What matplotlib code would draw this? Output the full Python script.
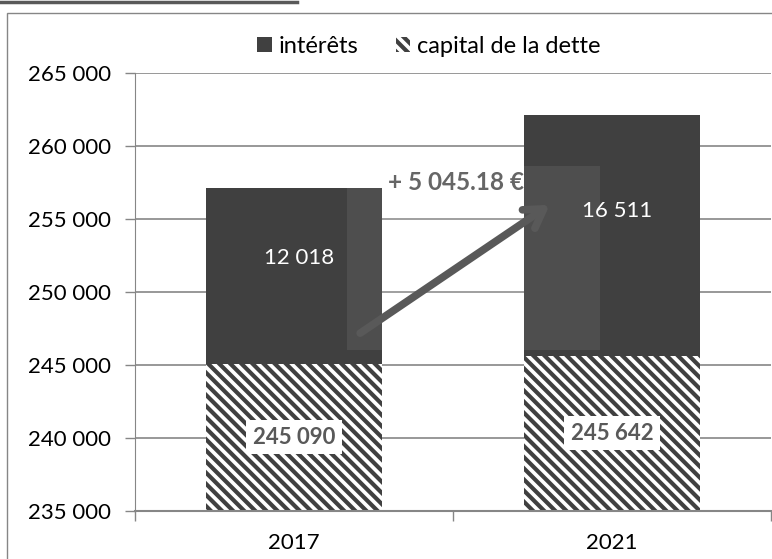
import matplotlib
matplotlib.use("Agg")
import matplotlib.pyplot as plt
import numpy as np
from matplotlib.patches import Rectangle, Patch
from matplotlib.lines import Line2D

years = ["2017", "2021"]
capital = [245090, 245642]
interets = [12018, 16511]
cap_labels = ["245 090", "245 642"]
int_labels = ["12 018", "16 511"]
diff_label = "+ 5 045.18 €"
yticks = [235000, 240000, 245000, 250000, 255000, 260000, 265000]
ytick_labels = ["235 000", "240 000", "245 000", "250 000", "255 000", "260 000", "265 000"]

plt.rcParams["font.family"] = ["Lato", "DejaVu Sans"]
plt.rcParams["hatch.linewidth"] = 3.0

dark = "#404040"
grey_txt = "#595959"
grid = "#868686"
hatch = "\\" * 3

fig = plt.figure(figsize=(7.72, 5.59), dpi=100)
ax = fig.add_axes([0.1749, 0.0859, 0.8238, 0.7835])

ypos = np.arange(len(years))
ymin = yticks[0]
base = np.array(capital) - ymin
ax.bar(ypos, base, bottom=ymin, width=0.555, color="white", edgecolor=dark,
       linewidth=0, hatch=hatch, zorder=2)
ax.bar(ypos, interets, bottom=capital, width=0.555, color=dark, linewidth=0, zorder=2)

ax.set_ylim(yticks[0], yticks[-1])
ax.set_xlim(-0.5, len(years) - 0.5)
ax.set_yticks(yticks)
ax.set_yticklabels(ytick_labels)
ax.set_xticks(ypos)
ax.set_xticklabels(years)
ax.set_xticks(np.arange(len(years) + 1) - 0.5, minor=True)
ax.tick_params(axis="x", which="major", length=0, pad=16, labelsize=16, labelcolor="black")
ax.tick_params(axis="x", which="minor", length=7, color=grid, width=1)
ax.tick_params(axis="y", length=7, color=grid, width=1, pad=10, labelsize=16)
ax.yaxis.grid(True, color=grid, linewidth=1.2, zorder=0)
ax.set_axisbelow(True)
for s in ["top", "right"]:
    ax.spines[s].set_visible(False)
ax.spines["left"].set_color(grid)
ax.spines["bottom"].set_color(grid)
ax.spines["bottom"].set_linewidth(1.5)

# data labels
for i in ypos:
    ax.text(i, (ymin + capital[i]) / 2, cap_labels[i], ha="center", va="center",
            fontsize=16, fontweight="bold", color=grey_txt, zorder=5,
            bbox=dict(boxstyle="square,pad=0.3", fc="white", ec="none"))
    ax.text(i + 0.015, capital[i] + 0.6 * interets[i], int_labels[i], ha="center",
            va="center", fontsize=16, color="white", zorder=5)

# light overlay box and arrow
ax.add_patch(Rectangle((0.333, 0.368), 0.398, 0.42, transform=ax.transAxes,
                       facecolor="white", alpha=0.08, linewidth=0, zorder=3))
ax.annotate("", xy=(0.652, 0.699), xytext=(0.354, 0.406),
            xycoords="axes fraction", textcoords="axes fraction",
            arrowprops=dict(arrowstyle="->,head_length=1.3,head_width=0.8",
                            color=grey_txt, lw=5.5, capstyle="round", joinstyle="round",
                            shrinkA=0, shrinkB=0), zorder=4)
ax.text(0.505, 0.751, diff_label, transform=ax.transAxes, ha="center", va="center",
        fontsize=17.5, fontweight="bold", color=grey_txt, zorder=1)

# legend
handles = [Patch(facecolor=dark, edgecolor="none", label="intérêts"),
           Patch(facecolor="white", edgecolor=dark, linewidth=0, hatch=hatch,
                 label="capital de la dette")]
fig.legend(handles=handles, loc="center", bbox_to_anchor=(0.556, 0.917), ncol=2,
           frameon=False, fontsize=17, handlelength=0.6, handleheight=0.6,
           handletextpad=0.3, columnspacing=1.6)

# frame lines
fig.add_artist(Rectangle((7 / 772, -0.01), 1.0, 1 - 13 / 559 + 0.01, transform=fig.transFigure,
                         fill=False, edgecolor=grid, linewidth=1))
fig.add_artist(Line2D([0, 297 / 772], [1 - 1.5 / 559, 1 - 1.5 / 559],
                      transform=fig.transFigure, color=grey_txt, linewidth=2.5))

fig.savefig("out.png", dpi=100)
